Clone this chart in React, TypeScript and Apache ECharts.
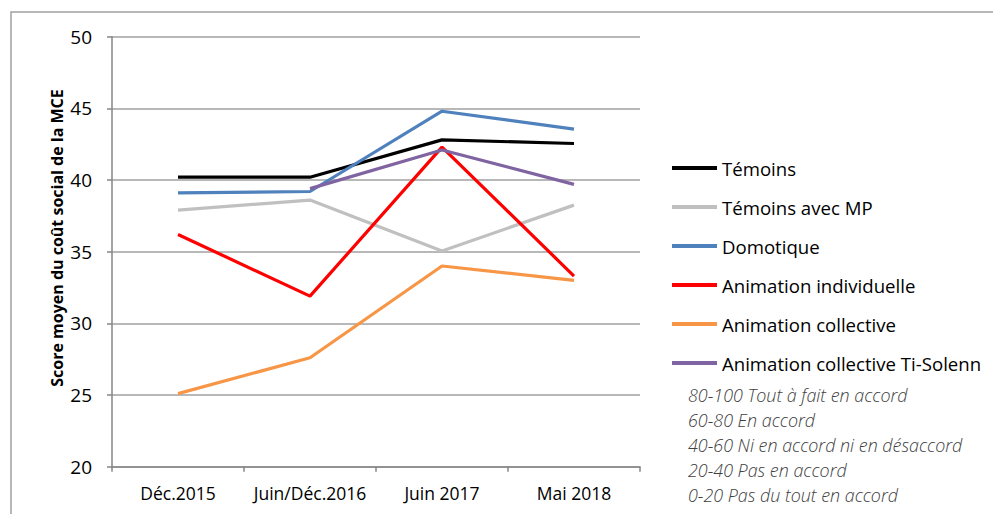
import React, { useEffect, useRef } from "react";
import * as echarts from "echarts";

const categories = ["Déc.2015", "Juin/Déc.2016", "Juin 2017", "Mai 2018"];
const seriesNames = [
  "Témoins",
  "Témoins avec MP",
  "Domotique",
  "Animation individuelle",
  "Animation collective",
  "Animation collective Ti-Solenn",
];
const temoins = [40.2, 40.2, 42.8, 42.55];
const temoinsMP = [37.9, 38.6, 35.05, 38.25];
const domotique = [39.1, 39.2, 44.8, 43.55];
const animIndiv = [36.2, 31.9, 42.3, 33.3];
const animColl = [25.1, 27.6, 34.0, 33.0];
const animTiSolenn = [null, 39.4, 42.1, 39.7];
const seriesColors = ["#000000", "#c0c0c0", "#4f81bd", "#ff0000", "#f79646", "#8064a2"];
const yTicks = { min: 20, max: 50, interval: 5 };
const notes = [
  "80-100 Tout à fait en accord",
  "60-80 En accord",
  "40-60 Ni en accord ni en désaccord",
  "20-40 Pas en accord",
  "0-20 Pas du tout en accord",
];
const yTitle = "Score moyen du coût social de la MCE";

const FONT = "'Open Sans', sans-serif";

export default function App() {
  const ref = useRef<HTMLDivElement>(null);
  useEffect(() => {
    if (!ref.current) return;
    const chart = echarts.init(ref.current, undefined, { renderer: "svg" });
    const dataSets = [temoins, temoinsMP, domotique, animIndiv, animColl, animTiSolenn];
    chart.setOption({
      animation: false,
      backgroundColor: "#ffffff",
      textStyle: { fontFamily: FONT },
      grid: { left: 112, right: 353, top: 36.7, bottom: 47.3, containLabel: false },
      xAxis: {
        type: "category",
        data: categories,
        boundaryGap: true,
        axisLine: { show: true, lineStyle: { color: "#868686", width: 1.5 } },
        axisTick: { show: true, length: 5, inside: false, interval: 0, lineStyle: { color: "#868686", width: 1.5 } },
        axisLabel: { color: "#000", fontSize: 17.5, margin: 17, interval: 0, fontFamily: FONT },
        splitLine: { show: false },
      },
      yAxis: {
        type: "value",
        min: yTicks.min,
        max: yTicks.max,
        interval: yTicks.interval,
        axisLine: { show: true, lineStyle: { color: "#868686", width: 1.5 } },
        axisTick: { show: true, length: 5, inside: false, lineStyle: { color: "#868686", width: 1.5 } },
        axisLabel: { color: "#000", fontSize: 19, margin: 20, fontFamily: FONT },
        splitLine: { show: true, lineStyle: { color: "#a0a0a0", width: 1.5 } },
      },
      legend: {
        orient: "vertical",
        left: 672,
        top: 158,
        icon: "rect",
        itemWidth: 45,
        itemHeight: 4,
        itemGap: 19,
        padding: 0,
        data: seriesNames,
        textStyle: { fontSize: 18.6, color: "#000", lineHeight: 20, fontFamily: FONT },
      },
      series: seriesNames.map((name, i) => ({
        name,
        type: "line",
        data: dataSets[i],
        symbol: "none",
        showSymbol: false,
        connectNulls: false,
        color: seriesColors[i],
        lineStyle: { width: 3.2, color: seriesColors[i] },
        z: 2 + i,
      })),
      graphic: [
        {
          type: "rect",
          shape: { x: 11, y: 12, width: 1100, height: 600 },
          style: { fill: "none", stroke: "#a0a0a0", lineWidth: 1.5 },
          silent: true,
          z: -1,
        },
        {
          type: "text",
          x: 57,
          y: 238,
          rotation: Math.PI / 2,
          style: {
            text: yTitle,
            font: `bold 16px ${FONT}`,
            fill: "#000",
            align: "center",
            verticalAlign: "middle",
          },
        },
        {
          type: "text",
          x: 688,
          y: 383,
          style: {
            text: notes.join("\n"),
            font: `italic 300 17.9px ${FONT}`,
            lineHeight: 24.8,
            fill: "#404040",
            align: "left",
            verticalAlign: "top",
          },
        },
      ],
    });
    return () => chart.dispose();
  }, []);
  return (
    <div
      ref={ref}
      style={{ position: "fixed", left: 0, top: 0, width: 993, height: 514 }}
    />
  );
}
